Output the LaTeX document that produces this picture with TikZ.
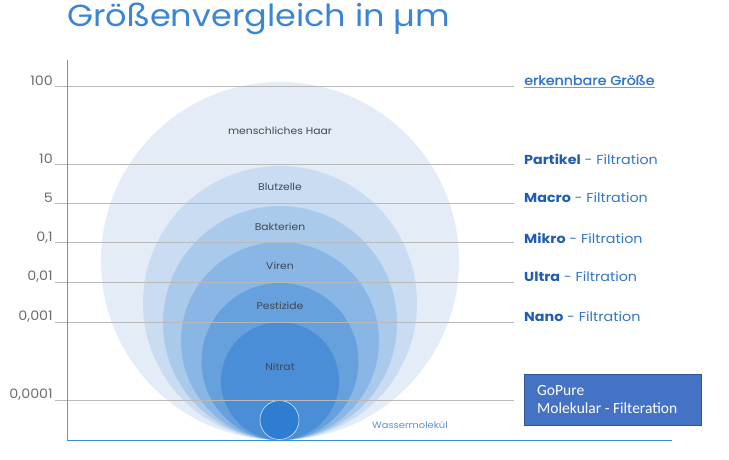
\documentclass[tikz,border=0pt]{standalone}
\usepackage{fontspec}
\setmainfont{Poppins}[FakeStretch=1.1]
\newfontfamily\semib{Poppins}[FakeStretch=1.1,FakeBold=1.2]
\newfontfamily\calib{Carlito}
\definecolor{cA}{HTML}{E3ECF7}
\definecolor{cB}{HTML}{C9DCF2}
\definecolor{cC}{HTML}{AACAEC}
\definecolor{cD}{HTML}{89B6E5}
\definecolor{cE}{HTML}{66A1DD}
\definecolor{cF}{HTML}{4A8ED7}
\definecolor{cG}{HTML}{2F7DD2}
\definecolor{titleblue}{HTML}{3A86D4}
\definecolor{darkblue}{HTML}{1E5DB3}
\definecolor{midblue}{HTML}{3476C6}
\definecolor{axisblue}{HTML}{5B97CC}
\definecolor{baseblue}{HTML}{3C8DDC}
\definecolor{boxfill}{HTML}{4472C4}
\definecolor{boxdraw}{HTML}{2F5597}
\definecolor{ticktext}{HTML}{6E6E6E}
\definecolor{innertext}{HTML}{404854}
\begin{document}
\begin{tikzpicture}[x=1pt,y=-1pt,
  circ/.style={circle,inner sep=0pt,outer sep=0pt},
  tick/.style={anchor=east,text=ticktext,font=\fontsize{13}{14}\selectfont,inner sep=0pt},
  grid/.style={draw=gray!55,line width=0.7pt},
  inlbl/.style={text=innertext,font=\fontsize{9.8}{10}\selectfont,inner sep=0pt},
  filt/.style={anchor=west,inner sep=0pt,text=midblue,font=\fontsize{13}{14}\selectfont}]
\useasboundingbox (0,0) rectangle (729,459);
% circles, all tangent at the bottom point
\fill[cA] (280,261) circle (179);
\fill[cB] (280,303) circle (137);
\fill[cC] (280,323) circle (117);
\fill[cD] (280,341) circle (99);
\fill[cE] (280,361.5) circle (78.5);
\fill[cF] (280,381) circle (59);
\node[circ,fill=cG,draw=white!80!cG,line width=0.6pt,minimum size=39pt] (water) at (279.5,420) {};
% grid lines
\coordinate (g0a) at (55,86);   \coordinate (g0b) at (514,86);
\coordinate (g1a) at (55,164);  \coordinate (g1b) at (514,164);
\coordinate (g2a) at (55,203);  \coordinate (g2b) at (514,203);
\coordinate (g3a) at (55,242.5);\coordinate (g3b) at (514,242.5);
\coordinate (g4a) at (55,282);  \coordinate (g4b) at (514,282);
\coordinate (g5a) at (55,322);  \coordinate (g5b) at (514,322);
\coordinate (g6a) at (55,400);  \coordinate (g6b) at (514,400);
\foreach \i in {0,...,6} {\draw[grid] (g\i a) -- (g\i b);}
% axes
\coordinate (axtop) at (67,60);
\coordinate (origin) at (67,440.5);
\coordinate (axright) at (672,440.5);
\draw[axisblue,line width=0.8pt] (axtop) -- (origin);
\draw[baseblue,line width=1pt] (origin) -- (axright);
% tick labels
\node[tick] (t0) at (53,81) {100};
\node[tick] (t1) at (53,159) {10};
\node[tick] (t2) at (53,198) {5};
\node[tick] (t3) at (53,238) {0,1};
\node[tick] (t4) at (53,277) {0,01};
\node[tick] (t5) at (53,317) {0,001};
\node[tick] (t6) at (53,395) {0,0001};
% circle labels
\node[inlbl] (haar) at (280,131) {menschliches Haar};
\node[inlbl] (blut) at (280,187) {Blutzelle};
\node[inlbl] (bakt) at (280,227) {Bakterien};
\node[inlbl] (viren) at (280,266) {Viren};
\node[inlbl] (pest) at (280,306) {Pestizide};
\node[inlbl] (nitrat) at (280,367) {Nitrat};
\node[anchor=west,inner sep=0pt,text=midblue!80!white,font=\fontsize{9}{10}\selectfont] (wasser) at (372,425) {Wassermolekül};
% title
\node[anchor=west,inner sep=0pt,text=titleblue,font=\fontsize{30.5}{31}\selectfont] (title) at (67,19) {Größenvergleich in µm};
% right labels
\node[filt,text=midblue] (erk) at (524,80) {\semib erkennbare Größe};
\draw[midblue!70!white,line width=0.8pt] ([yshift=-2pt]erk.south west) -- ([yshift=-2pt]erk.south east);
\node[filt] (part) at (524,159) {\textbf{\color{darkblue}Partikel} - Filtration};
\node[filt] (macro) at (524,198) {\textbf{\color{darkblue}Macro} - Filtration};
\node[filt] (mikro) at (524,238) {\textbf{\color{darkblue}Mikro} - Filtration};
\node[filt] (ultra) at (524,277) {\textbf{\color{darkblue}Ultra} - Filtration};
\node[filt] (nano) at (524,317) {\textbf{\color{darkblue}Nano} - Filtration};
% GoPure box
\node[draw=boxdraw,fill=boxfill,line width=0.8pt,minimum width=177pt,minimum height=51pt,inner sep=0pt,anchor=north west] (box) at (524,374) {};
\node[anchor=west,inner sep=0pt,text=white,font=\calib\fontsize{15.5}{16}\selectfont,align=left] (boxt) at (537,400) {GoPure\\[2pt]Molekular - Filteration};
\end{tikzpicture}
\end{document}
